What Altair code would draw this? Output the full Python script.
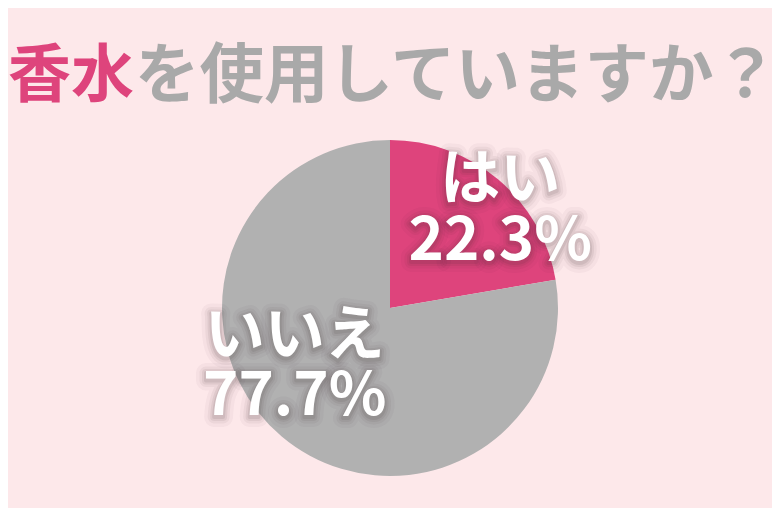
import altair as alt
import pandas as pd

# ---- data ----
answers = ["はい", "いいえ"]
shares = [22.3, 77.7]
pct_labels = ["22.3%", "77.7%"]
slice_colors = ["#de447c", "#b1b1b1"]
title_key = "香水"
title_rest = "を使用していますか？"

PINK = "#de447c"
TITLE_GRAY = "#a9a9a9"
BG = "#fde8ea"
FONT = "Noto Sans CJK JP"

df = pd.DataFrame({
    "answer": answers,
    "share": shares,
    "pct": pct_labels,
    "order": list(range(len(answers))),
})
df["label"] = df["answer"] + "\n" + df["pct"]

W, H = 764, 500
cx, cy = 382, 300
R = 168
theta_scale = alt.Scale(domain=[0, 100])

pie = alt.Chart(df).mark_arc(outerRadius=R).encode(
    theta=alt.Theta("share:Q", stack=True, scale=theta_scale),
    order=alt.Order("order:Q"),
    x=alt.value(cx),
    y=alt.value(cy),
    color=alt.Color("answer:N", scale=alt.Scale(domain=answers, range=slice_colors), legend=None),
)

lab_base = alt.Chart(df).transform_window(
    cum="sum(share)", sort=[alt.SortField("order")]
).transform_calculate(
    mid="datum.cum - datum.share / 2"
)

label_cfg = {
    "はい": dict(radius=140, dx=20, dy=-20, lh=61),
    "いいえ": dict(radius=112, dx=-23, dy=-57, lh=60),
}

layers = [pie]
for ans in answers:
    cfg = label_cfg[ans]
    common = dict(radius=cfg["radius"], dx=cfg["dx"], dy=cfg["dy"], align="center",
                  baseline="middle", lineBreak="\n", lineHeight=cfg["lh"], fontSize=60,
                  fontWeight="bold", font=FONT)
    sub = lab_base.transform_filter(alt.datum.answer == ans).encode(
        theta=alt.Theta("mid:Q", stack=False, scale=theta_scale),
        x=alt.value(cx), y=alt.value(cy), text="label:N",
    )
    for sw, so in [(20, 0.035), (13, 0.05), (8, 0.07), (4, 0.09)]:
        layers.append(
            sub.mark_text(fillOpacity=0, stroke="#3a2a30", strokeWidth=sw, strokeOpacity=so,
                          strokeJoin="round", **{**common, "dy": cfg["dy"] + 2})
        )
    layers.append(sub.mark_text(color="white", **common))

tdf = pd.DataFrame({"a": [title_key], "b": [title_rest]})
t1 = alt.Chart(tdf).mark_text(align="left", baseline="alphabetic", fontSize=63, fontWeight="bold",
                              font=FONT, color=PINK).encode(
    x=alt.value(0), y=alt.value(88), text="a:N")
t2 = alt.Chart(tdf).mark_text(align="left", baseline="alphabetic", fontSize=64.5, fontWeight="bold",
                              font=FONT, color=TITLE_GRAY).encode(
    x=alt.value(127), y=alt.value(88.5), text="b:N")
layers += [t1, t2]

chart = alt.layer(*layers).properties(
    width=W, height=H, background=BG, padding=0,
    autosize=alt.AutoSizeParams(type="none"),
).configure_view(stroke=None)

chart.save("out.html", embed_options={"renderer": "svg", "actions": False})
